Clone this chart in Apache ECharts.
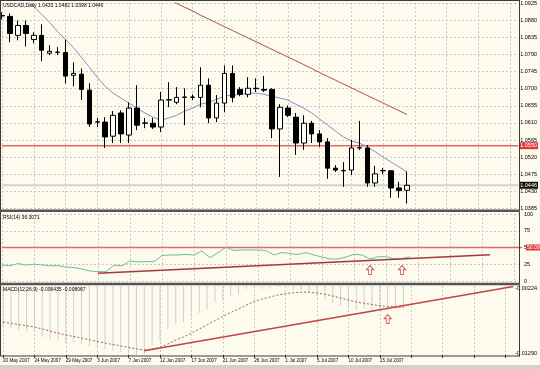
<!DOCTYPE html>
<html><head><meta charset="utf-8">
<script src="https://cdn.jsdelivr.net/npm/echarts@6/dist/echarts.min.js"></script>
<style>html,body{margin:0;padding:0;background:#fdfaee;overflow:hidden}#c{width:540px;height:369px}</style>
</head><body><div id="c"></div>
<script>
// ---------- data ----------
const dates = ['20 May 2007','21 May 2007','22 May 2007','23 May 2007','24 May 2007','25 May 2007','27 May 2007','28 May 2007','29 May 2007','30 May 2007','31 May 2007','1 Jun 2007','3 Jun 2007','4 Jun 2007','5 Jun 2007','6 Jun 2007','7 Jun 2007','8 Jun 2007','10 Jun 2007','11 Jun 2007','12 Jun 2007','13 Jun 2007','14 Jun 2007','15 Jun 2007','17 Jun 2007','18 Jun 2007','19 Jun 2007','20 Jun 2007','21 Jun 2007','22 Jun 2007','24 Jun 2007','25 Jun 2007','26 Jun 2007','27 Jun 2007','28 Jun 2007','29 Jun 2007','1 Jul 2007','2 Jul 2007','3 Jul 2007','4 Jul 2007','5 Jul 2007','6 Jul 2007','8 Jul 2007','9 Jul 2007','10 Jul 2007','11 Jul 2007','12 Jul 2007','13 Jul 2007','15 Jul 2007','16 Jul 2007','17 Jul 2007','18 Jul 2007'];
const futureSlots = 14; // empty chart shift on the right
const opens  = [1.0892,1.0890,1.0840,1.0866,1.0829,1.0840,1.0793,1.0795,1.0795,1.0735,1.0738,1.0696,1.0612,1.0612,1.0575,1.0636,1.0578,1.0649,1.0609,1.0609,1.0599,1.0670,1.0664,1.0677,1.0677,1.0677,1.0709,1.0623,1.0662,1.0740,1.0698,1.0685,1.0701,1.0698,1.0698,1.0594,1.0649,1.0625,1.0557,1.0609,1.0581,1.0560,1.0491,1.0484,1.0486,1.0544,1.0544,1.0452,1.0484,1.0484,1.0439,1.0433];
const closes = [1.0891,1.0845,1.0866,1.0845,1.0840,1.0801,1.0798,1.0796,1.0733,1.0740,1.0698,1.0607,1.0613,1.0573,1.0630,1.0581,1.0649,1.0604,1.0610,1.0599,1.0670,1.0671,1.0677,1.0678,1.0678,1.0709,1.0623,1.0662,1.0740,1.0677,1.0685,1.0701,1.0700,1.0696,1.0594,1.0651,1.0630,1.0557,1.0609,1.0581,1.0560,1.0491,1.0486,1.0485,1.0544,1.0545,1.0452,1.0476,1.0485,1.0439,1.0432,1.0446];
const lows   = [1.0882,1.0822,1.0827,1.0811,1.0819,1.0772,1.0788,1.0788,1.0714,1.0706,1.0670,1.0599,1.0599,1.0544,1.0557,1.0557,1.0557,1.0591,1.0596,1.0594,1.0586,1.0651,1.0659,1.0604,1.0670,1.0651,1.0609,1.0612,1.0638,1.0664,1.0680,1.0677,1.0691,1.0691,1.0570,1.0468,1.0625,1.0526,1.0539,1.0557,1.0547,1.0463,1.0481,1.0442,1.0473,1.0539,1.0442,1.0442,1.0476,1.0413,1.0413,1.0398];
const highs  = [1.0900,1.0898,1.0879,1.0879,1.0848,1.0869,1.0814,1.0809,1.0829,1.0769,1.0753,1.0714,1.0623,1.0625,1.0641,1.0643,1.0664,1.0709,1.0623,1.0623,1.0691,1.0717,1.0704,1.0701,1.0685,1.0756,1.0727,1.0683,1.0761,1.0761,1.0704,1.0730,1.0727,1.0733,1.0701,1.0659,1.0656,1.0636,1.0630,1.0615,1.0591,1.0570,1.0499,1.0507,1.0565,1.0615,1.0552,1.0497,1.0491,1.0486,1.0455,1.0482];
const maFast = [1.1002,1.0981,1.0960,1.0937,1.0916,1.0895,1.0874,1.0850,1.0829,1.0808,1.0782,1.0756,1.0730,1.0706,1.0688,1.0675,1.0662,1.0649,1.0636,1.0625,1.0617,1.0623,1.0630,1.0641,1.0649,1.0659,1.0664,1.0672,1.0680,1.0683,1.0685,1.0688,1.0688,1.0685,1.0680,1.0675,1.0670,1.0659,1.0649,1.0636,1.0620,1.0604,1.0588,1.0573,1.0562,1.0557,1.0547,1.0534,1.0520,1.0507,1.0494,1.0481];
const maSlow = [null,null,null,null,null,null,null,null,null,null,null,null,null,null,null,null,null,null,null,null,1.0944,1.0934,1.0924,1.0914,1.0904,1.0893,1.0883,1.0873,1.0863,1.0853,1.0843,1.0833,1.0823,1.0813,1.0803,1.0793,1.0783,1.0773,1.0763,1.0753,1.0742,1.0732,1.0722,1.0712,1.0702,1.0692,1.0682,1.0672,1.0662,1.0652,1.0642,1.0632];
const rsi = [23.9,22.8,26.1,23.9,24.9,23.9,22.8,22.8,20.9,20.1,17.9,14.9,13.9,13.9,23.4,22.7,29.9,28.4,29.1,28.8,38.1,38.8,38.8,39.6,38.8,44.8,34.8,42.2,50.3,45.5,46.3,46.3,46.3,45.5,38.8,42.5,41.0,39.6,42.5,38.8,35.8,32.8,32.8,35.8,39.9,38.8,32.8,36.1,36.3,32.8,33.6,36.3];
const macdMain = [-0.00857,-0.00878,-0.00898,-0.00916,-0.00935,-0.01012,-0.01043,-0.01074,-0.01105,-0.01105,-0.01126,-0.01154,-0.01182,-0.01197,-0.01221,-0.01244,-0.01267,-0.01285,-0.01275,-0.01136,-0.01081,-0.00904,-0.00811,-0.00780,-0.00703,-0.00641,-0.00579,-0.00479,-0.00448,-0.00386,-0.00363,-0.00270,-0.00247,-0.00270,-0.00270,-0.00239,-0.00247,-0.00278,-0.00289,-0.00320,-0.00382,-0.00433,-0.00484,-0.00533,-0.00564,-0.00595,-0.00572,-0.00584,-0.00603,-0.00590,-0.00579,-0.00564];
const macdSignal = [-0.00780,-0.00800,-0.00820,-0.00839,-0.00857,-0.00888,-0.00919,-0.00950,-0.00981,-0.01004,-0.01027,-0.01055,-0.01081,-0.01105,-0.01128,-0.01151,-0.01174,-0.01197,-0.01213,-0.01197,-0.01174,-0.01120,-0.01058,-0.01012,-0.00950,-0.00888,-0.00827,-0.00757,-0.00695,-0.00633,-0.00579,-0.00518,-0.00463,-0.00425,-0.00394,-0.00363,-0.00340,-0.00328,-0.00320,-0.00320,-0.00332,-0.00352,-0.00379,-0.00409,-0.00440,-0.00471,-0.00491,-0.00510,-0.00528,-0.00541,-0.00548,-0.00552];
const rsiTrendX = [12, 61];
const rsiTrendY = [11.6, 39.0];
const macdTrendX = [18, 65];
const macdTrendY = [-0.01224, -0.00233];
const rsiArrowX = [46, 50];
const rsiArrowY = [16.4, 16.4];
const macdArrowX = [49];
const macdArrowY = [-0.00734];
const priceTicks = [1.0385,1.0430,1.0475,1.0520,1.0565,1.0610,1.0655,1.0700,1.0745,1.0790,1.0835,1.0880,1.0925];
const rsiTicks = [0,25,50,75,100];
const macdTicks = [-0.0129,-0.00224];
const macdTickLabels = ['-0.01290','-0.00224'];
const supportLevel = 1.0550;
const lastPrice = 1.0446;
const rsiLevel = 50;
const levelSpanX = [0, 65];
const chartTitle = 'USDCAD,Daily 1.0433 1.0482 1.0398 1.0446';
const rsiTitle = 'RSI(14) 36.3071';
const macdTitle = 'MACD(12,26,9) -0.006435 -0.008067';

// ---------- chart ----------
const BG = '#fdfaee';
const FONT = 'Liberation Sans';
const categories = dates.concat(new Array(futureSlots).fill(''));
const gridDash = {color:'#c9c9c9', width:1, type:[2,2]};
const grids = [
  {left:2, right:18, top:2.5, height:206},
  {left:2, right:18, top:214, height:67},
  {left:2, right:18, top:286, height:69}
];
function xAx(i, showLabels){
  return {type:'category', gridIndex:i, data:categories, boundaryGap:false,
    axisLine:{show:false},
    axisTick:{show:showLabels, interval:3, length:3, inside:false, lineStyle:{color:'#333'}},
    axisLabel:{show:showLabels, interval:3, align:'left', margin:3, fontSize:4.6, fontFamily:FONT, color:'#000'},
    splitLine:{show:true, interval:3, lineStyle:gridDash}};
}
function levelSeries(xi, yi, value, color, width, labelText, labelBg, labelDist, fs, z){
  return {type:'line', xAxisIndex:xi, yAxisIndex:yi, data:levelSpanX.map(x=>[x, value]), showSymbol:false, symbol:'none', silent:true,
    lineStyle:{color:color, width:width}, z:z,
    endLabel:{show:!!labelText, formatter:labelText||'', backgroundColor:labelBg, color:'#fff', fontSize:fs, fontFamily:FONT, padding:[1,1,0,1], distance:labelDist}};
}
const arrowPath = 'path://M5,0 L10,5 L7,5 L7,11 L3,11 L3,5 L0,5 Z';
const chart = echarts.init(document.getElementById('c'), null, {renderer:'canvas'});
chart.setOption({
  animation:false,
  backgroundColor:BG,
  grid:grids,
  xAxis:[xAx(0,false), xAx(1,false), xAx(2,true)],
  yAxis:[
    {type:'value', gridIndex:0, position:'right', min:1.0385, max:1.0925,
      axisLine:{show:false}, axisTick:{show:false, customValues:priceTicks},
      axisLabel:{customValues:priceTicks, margin:2, fontSize:5.5, fontFamily:FONT, color:'#000', formatter:v=>v.toFixed(4)},
      splitLine:{show:true, lineStyle:gridDash}},
    {type:'value', gridIndex:1, position:'right', min:0, max:100,
      axisLine:{show:false}, axisTick:{show:false, customValues:rsiTicks},
      axisLabel:{customValues:rsiTicks, margin:2, fontSize:5.5, fontFamily:FONT, color:'#000'},
      splitLine:{show:true, lineStyle:gridDash}},
    {type:'value', gridIndex:2, position:'right', min:-0.0129, max:-0.00224,
      axisLine:{show:false}, axisTick:{show:false, customValues:macdTicks},
      axisLabel:{customValues:macdTicks, margin:2, fontSize:5.5, fontFamily:FONT, color:'#000',
        formatter:v=>{let b=0;macdTicks.forEach((t,k)=>{if(Math.abs(t-v)<Math.abs(macdTicks[b]-v))b=k;});return b===1?'{t|'+macdTickLabels[b]+'}':'{b|'+macdTickLabels[b]+'}';},
        rich:{t:{fontSize:5.5, fontFamily:FONT, color:'#000', padding:[4,0,0,0]}, b:{fontSize:5.5, fontFamily:FONT, color:'#000', padding:[0,0,4,0]}}},
      splitLine:{show:false}}
  ],
  series:[
    levelSeries(0, 0, lastPrice, '#d2d2cc', 2, lastPrice.toFixed(4), '#111', 1, 5.5, 1),
    levelSeries(0, 0, supportLevel, '#e06868', 1.6, supportLevel.toFixed(4), '#e03838', 1, 5.5, 1),
    {type:'line', name:'maSlow', xAxisIndex:0, yAxisIndex:0, data:maSlow, showSymbol:false, symbol:'none',
      lineStyle:{color:'#a85050', width:1}, z:2},
    {type:'line', name:'maFast', xAxisIndex:0, yAxisIndex:0, data:maFast, showSymbol:false, symbol:'none',
      lineStyle:{color:'#8a8acb', width:1}, z:2},
    {type:'candlestick', xAxisIndex:0, yAxisIndex:0, barWidth:5, z:3,
      data:dates.map((d,i)=>[opens[i], closes[i], lows[i], highs[i]]),
      itemStyle:{color:'#ffffff', color0:'#000000', borderColor:'#000000', borderColor0:'#000000', borderWidth:1}},
    levelSeries(1, 1, rsiLevel, '#e06868', 1.6, '50.0000', '#e03838', 4, 5, 2),
    {type:'line', name:'rsi', xAxisIndex:1, yAxisIndex:1, data:rsi, showSymbol:false, symbol:'none',
      lineStyle:{color:'#6fbf9a', width:1}, z:3},
    {type:'line', name:'rsiTrend', xAxisIndex:1, yAxisIndex:1, data:rsiTrendX.map((x,i)=>[x, rsiTrendY[i]]), showSymbol:false, symbol:'none',
      lineStyle:{color:'#a83838', width:1.5}, z:4},
    {type:'scatter', xAxisIndex:1, yAxisIndex:1, data:rsiArrowX.map((x,i)=>[x, rsiArrowY[i]]), symbol:arrowPath, symbolSize:[7,9],
      itemStyle:{color:BG, borderColor:'#cc3a3a', borderWidth:1}, z:5},
    {type:'bar', name:'macd', xAxisIndex:2, yAxisIndex:2, data:macdMain, barWidth:1, clip:true,
      itemStyle:{color:'#cfcfcf'}, z:2},
    {type:'line', name:'signal', xAxisIndex:2, yAxisIndex:2, data:macdSignal, showSymbol:false, symbol:'none',
      lineStyle:{color:'#b05858', width:1, type:[2,2]}, z:3},
    {type:'line', name:'macdTrend', xAxisIndex:2, yAxisIndex:2, data:macdTrendX.map((x,i)=>[x, macdTrendY[i]]), showSymbol:false, symbol:'none',
      lineStyle:{color:'#c04444', width:1.5}, z:4},
    {type:'scatter', xAxisIndex:2, yAxisIndex:2, data:macdArrowX.map((x,i)=>[x, macdArrowY[i]]), symbol:arrowPath, symbolSize:[7,9],
      itemStyle:{color:BG, borderColor:'#cc3a3a', borderWidth:1}, z:5}
  ],
  graphic:[
    {type:'rect', shape:{x:0, y:365, width:540, height:4}, style:{fill:'#d4d0c8'}, silent:true, z:0},
    {type:'line', shape:{x1:0, y1:0.5, x2:520, y2:0.5}, style:{stroke:'#3a3a3a', lineWidth:1}, silent:true, z:10},
    {type:'line', shape:{x1:0.5, y1:0, x2:0.5, y2:356}, style:{stroke:'#3a3a3a', lineWidth:1}, silent:true, z:10},
    {type:'line', shape:{x1:519.5, y1:0, x2:519.5, y2:356.5}, style:{stroke:'#3a3a3a', lineWidth:1}, silent:true, z:10},
    {type:'rect', shape:{x:0, y:209.5, width:520, height:2.5}, style:{fill:'#555'}, silent:true, z:10},
    {type:'rect', shape:{x:0, y:282.8, width:520, height:2.5}, style:{fill:'#555'}, silent:true, z:10},
    {type:'line', shape:{x1:0, y1:356, x2:520, y2:356}, style:{stroke:'#3a3a3a', lineWidth:1}, silent:true, z:10},
    {type:'text', x:3, y:5.5, style:{text:chartTitle, font:'5px '+FONT, fill:'#000', verticalAlign:'middle'}, silent:true, z:11},
    {type:'text', x:3, y:218, style:{text:rsiTitle, font:'5px '+FONT, fill:'#000', verticalAlign:'middle'}, silent:true, z:11},
    {type:'text', x:3, y:289.5, style:{text:macdTitle, font:'5px '+FONT, fill:'#000', verticalAlign:'middle'}, silent:true, z:11}
  ]
});
</script>
</body></html>
